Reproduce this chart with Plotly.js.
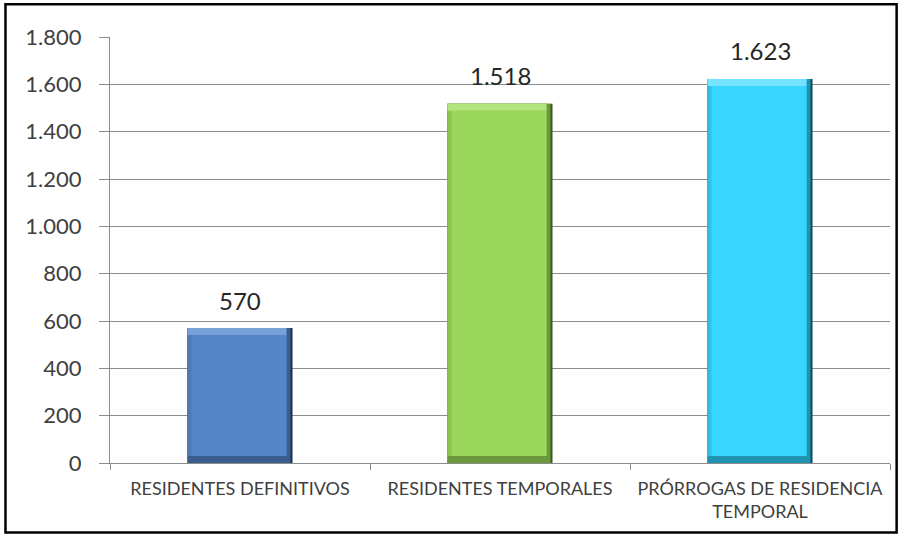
<!DOCTYPE html>
<html>
<head>
<meta charset="utf-8">
<script src="https://cdn.plot.ly/plotly-3.0.1.min.js"></script>
<style>html,body{margin:0;padding:0;background:#fff;}#chart{width:910px;height:543px;}</style>
</head>
<body>
<div id="chart"></div>
<script>
const categories = ["RESIDENTES DEFINITIVOS", "RESIDENTES TEMPORALES", "PRÓRROGAS DE RESIDENCIA<br>TEMPORAL"];
const values = [570, 1518, 1623];
const valueLabels = ["570", "1.518", "1.623"];
const barColors = ["#5587C8", "#9BD75A", "#38D6FE"];
const lightColors = ["#78A1D7", "#B3E47E", "#74E3FF"];
const leftShadeColors = ["#4C7AB6", "#8CC44F", "#30C2E6"];
const midDarkColors = ["#3A5D8B", "#6C983C", "#2193B0"];
const darkColors = ["#1D3250", "#3D5821", "#0E4A5C"];
const yTickVals = [0, 200, 400, 600, 800, 1000, 1200, 1400, 1600, 1800];

// visual constants (layout, not data)
const FONT = "Lato, 'Open Sans', sans-serif";
const BAR_W = 0.404;          // bar width in category units
const PX_X = 1 / 260;          // one pixel in category units
const PX_Y = 1800 / 426;       // one pixel in value units
const TB = 7;                  // top/bottom bevel px
const RB = 6;                  // right bevel px
const LB = 4;                  // left bevel px

const xIdx = categories.map((_, i) => i);

function layer(colors, x0px, x1px, y0px, topInsetPx) {
  return {
    type: "bar", x: xIdx,
    base: values.map(() => y0px * PX_Y),
    y: values.map(v => v - (y0px + topInsetPx) * PX_Y),
    width: BAR_W - (x0px + x1px) * PX_X,
    offset: -BAR_W / 2 + x0px * PX_X,
    marker: {color: colors, line: {width: 0}},
    hoverinfo: "skip"
  };
}

const traces = [
  layer(darkColors, 0, 0, 0, 0),
  layer(midDarkColors, 0, 2, 0, 0),
  layer(leftShadeColors, 0, RB, TB, 0),
  {
    type: "bar", x: xIdx,
    base: values.map(v => v - TB * PX_Y),
    y: values.map(() => TB * PX_Y),
    width: BAR_W - RB * PX_X, offset: -BAR_W / 2,
    marker: {color: lightColors, line: {width: 0}},
    hoverinfo: "skip"
  },
  layer(barColors, LB, RB, TB, TB)
];

const annotations = values.map((v, i) => ({
  x: i, y: v, xref: "x", yref: "y",
  text: valueLabels[i], showarrow: false,
  yanchor: "middle", yshift: 28,
  font: {family: FONT, size: 24, color: "#262626"}
}));

const layout = {
  width: 910, height: 543,
  separators: ",.",
  margin: {l: 110, r: 20, t: 37, b: 80},
  paper_bgcolor: "#ffffff",
  plot_bgcolor: "#ffffff",
  barmode: "overlay",
  showlegend: false,
  font: {family: FONT, color: "#404040"},
  xaxis: {
    range: [-0.5, 2.5],
    tickvals: xIdx,
    ticktext: categories,
    ticks: "",
    ticklabelstandoff: 9,
    showline: true,
    linecolor: "#8c8c8c",
    linewidth: 1,
    showgrid: false,
    zeroline: false,
    tickfont: {family: FONT, size: 18, color: "#404040"},
    automargin: false
  },
  xaxis2: {
    overlaying: "x", anchor: "y",
    range: [-0.5, 2.5],
    tickvals: [-0.5, 0.5, 1.5, 2.5],
    ticks: "outside", ticklen: 6, tickcolor: "#8c8c8c",
    showticklabels: false, showgrid: false, zeroline: false, showline: false,
    side: "bottom"
  },
  yaxis: {
    range: [0, 1800],
    tickvals: yTickVals,
    tickformat: ",d",
    ticks: "outside",
    ticklen: 10,
    tickcolor: "#8c8c8c",
    ticklabelstandoff: 13,
    showline: true,
    linecolor: "#8c8c8c",
    linewidth: 1,
    showgrid: true,
    gridcolor: "#8c8c8c",
    gridwidth: 1,
    zeroline: false,
    tickfont: {family: FONT, size: 22, color: "#404040"},
    automargin: false
  },
  annotations: annotations,
  shapes: [{
    type: "rect", xref: "paper", yref: "paper",
    x0: -0.134, x1: 1.0085, y0: -0.163, y1: 1.077,
    line: {color: "#000000", width: 2.5}, fillcolor: "rgba(0,0,0,0)", layer: "above"
  }]
};

const tickTrace = {type: "scatter", x: [], y: [], xaxis: "x2", yaxis: "y", hoverinfo: "skip"};
traces.push(tickTrace);

Plotly.newPlot("chart", traces, layout, {displayModeBar: false, staticPlot: true});
</script>
</body>
</html>
